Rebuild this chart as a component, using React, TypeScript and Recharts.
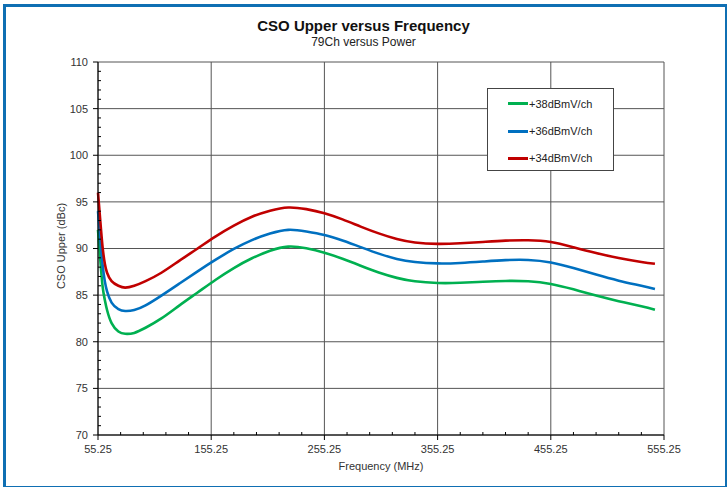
import { LineChart, Line, XAxis, YAxis, CartesianGrid, Legend } from "recharts";

const FONT = '"Liberation Sans", Arial, sans-serif';

// frequency (MHz) of each sample
const freq = [
  55.25, 57.25, 59.25, 61.25, 63.25, 67.25, 73.25, 79.25, 87.25, 97.25, 111.25, 127.25, 143.25, 159.25, 175.25,
  191.25, 207.25, 223.25, 239.25, 255.25, 271.25, 287.25, 303.25, 319.25, 335.25, 355.25, 375.25, 395.25, 415.25,
  435.25, 455.25, 475.25, 495.25, 515.25, 535.25, 547.25,
];

const cso38 = [
  92.0, 88.8, 86.0, 84.5, 83.4, 82.0, 81.1, 80.85, 80.95, 81.5, 82.5, 83.9, 85.28, 86.65, 87.9, 88.95, 89.75, 90.2,
  90.02, 89.55, 88.9, 88.15, 87.42, 86.85, 86.48, 86.3, 86.32, 86.43, 86.52, 86.48, 86.2, 85.62, 84.95, 84.35, 83.8,
  83.42,
];

const cso36 = [
  94.0, 91.0, 88.3, 86.5, 85.4, 84.2, 83.5, 83.3, 83.4, 83.9, 84.95, 86.25, 87.55, 88.8, 89.95, 90.9, 91.6, 92.0,
  91.83, 91.45, 90.85, 90.15, 89.45, 88.88, 88.55, 88.4, 88.45, 88.6, 88.75, 88.77, 88.5, 87.9, 87.2, 86.55, 86.0,
  85.65,
];

const cso34 = [
  96.0, 93.0, 90.2, 88.4, 87.4, 86.5, 86.0, 85.8, 86.0, 86.5, 87.4, 88.7, 90.0, 91.3, 92.45, 93.4, 94.05, 94.4, 94.22,
  93.78, 93.12, 92.35, 91.62, 91.02, 90.65, 90.5, 90.56, 90.7, 90.84, 90.88, 90.7, 90.14, 89.52, 88.98, 88.56, 88.36,
];

const xTicks = [55.25, 155.25, 255.25, 355.25, 455.25, 555.25];
const yTicks = [70, 75, 80, 85, 90, 95, 100, 105, 110];
// minor ticks: every 20 MHz, every 1 dBc
const xAllTicks = Array.from({ length: 26 }, (_, i) => 55.25 + i * 20);
const yAllTicks = Array.from({ length: 41 }, (_, i) => 70 + i);

const series = [
  { key: "p38", name: "+38dBmV/ch", color: "#00B050" },
  { key: "p36", name: "+36dBmV/ch", color: "#0070C0" },
  { key: "p34", name: "+34dBmV/ch", color: "#C00000" },
];

const rows = freq.map((f, i) => ({ f, p38: cso38[i], p36: cso36[i], p34: cso34[i] }));

const TICK_SIZE = 5;
const TICK_MARGIN = 5;
const isMajorX = (v: number) => xTicks.some((t) => Math.abs(t - v) < 1e-6);
const isMajorY = (v: number) => yTicks.includes(v);

function XTick(props: any) {
  const { x, y, payload } = props;
  const v = payload.value as number;
  const ay = y - TICK_SIZE - TICK_MARGIN;
  if (!isMajorX(v)) {
    return <line x1={x} x2={x} y1={ay - 3} y2={ay} stroke="#000" />;
  }
  return (
    <g>
      <line x1={x} x2={x} y1={ay} y2={ay + TICK_SIZE} stroke="#000" />
      <text x={x} y={y} dy="0.71em" textAnchor="middle" fontSize={11} fill="#333" fontFamily={FONT}>
        {v.toFixed(2)}
      </text>
    </g>
  );
}

function YTick(props: any) {
  const { x, y, payload } = props;
  const v = payload.value as number;
  const ax = x + TICK_SIZE + TICK_MARGIN;
  if (!isMajorY(v)) {
    return <line x1={ax} x2={ax + 3} y1={y} y2={y} stroke="#000" />;
  }
  return (
    <g>
      <line x1={ax - TICK_SIZE} x2={ax} y1={y} y2={y} stroke="#000" />
      <text x={x} y={y} dy="0.355em" textAnchor="end" fontSize={11} fill="#333" fontFamily={FONT}>
        {v}
      </text>
    </g>
  );
}

function LegendBox() {
  return (
    <div
      style={{
        width: 127,
        height: 83,
        boxSizing: "border-box",
        border: "1px solid #444",
        background: "#fff",
        fontFamily: FONT,
        fontSize: 11,
        color: "#222",
        position: "relative",
      }}
    >
      {series.map((s, i) => (
        <div
          key={s.key}
          style={{ position: "absolute", left: 20, top: 14.7 + i * 27.3 - 7, height: 14, display: "flex", alignItems: "center" }}
        >
          <span style={{ display: "inline-block", width: 20, height: 3, background: s.color, marginRight: 1 }} />
          <span>{s.name}</span>
        </div>
      ))}
    </div>
  );
}

const majorH = ({ offset }: any) => yTicks.map((v) => offset.top + ((110 - v) / 40) * offset.height);
const majorV = ({ offset }: any) => xTicks.map((v) => offset.left + ((v - 55.25) / 500) * offset.width);

export default function App() {
  return (
    <div
      style={{
        position: "fixed",
        left: 0,
        top: 0,
        width: 727,
        height: 487,
        overflow: "hidden",
        background: "#fff",
        fontFamily: FONT,
      }}
    >
      <div
        style={{
          position: "absolute",
          left: 3,
          top: 4,
          width: 725,
          height: 485,
          boxSizing: "border-box",
          border: "3px solid #0F6FB3",
        }}
      />
      <div style={{ position: "absolute", left: 0, top: 0 }}>
        <LineChart width={727} height={487} data={rows} margin={{ top: 62, right: 63, bottom: 22, left: 58 }}>
          <CartesianGrid
            stroke="#555"
            strokeWidth={1}
            horizontalCoordinatesGenerator={majorH}
            verticalCoordinatesGenerator={majorV}
          />
          <XAxis
            dataKey="f"
            type="number"
            domain={[55.25, 555.25]}
            ticks={xAllTicks}
            tick={<XTick />}
            tickLine={false}
            axisLine={{ stroke: "#000" }}
            tickSize={TICK_SIZE}
            tickMargin={TICK_MARGIN}
            height={30}
            interval={0}
          />
          <YAxis
            type="number"
            domain={[70, 110]}
            ticks={yAllTicks}
            tick={<YTick />}
            tickLine={false}
            axisLine={{ stroke: "#000" }}
            tickSize={TICK_SIZE}
            tickMargin={TICK_MARGIN}
            width={40}
            interval={0}
          />
          <Legend
            layout="vertical"
            align="center"
            verticalAlign="middle"
            content={() => <LegendBox />}
            wrapperStyle={{ left: 487, top: 88, width: 127, height: 83 }}
          />
          {series.map((s) => (
            <Line
              key={s.key}
              dataKey={s.key}
              name={s.name}
              type="natural"
              stroke={s.color}
              strokeWidth={2.6}
              dot={false}
              isAnimationActive={false}
            />
          ))}
        </LineChart>
      </div>
      <div
        style={{
          position: "absolute",
          left: 0,
          width: 727,
          top: 17,
          textAlign: "center",
          fontSize: 15,
          lineHeight: "17px",
          fontWeight: "bold",
          color: "#111",
        }}
      >
        CSO Upper versus Frequency
      </div>
      <div
        style={{
          position: "absolute",
          left: 0,
          width: 727,
          top: 35,
          textAlign: "center",
          fontSize: 12,
          lineHeight: "14px",
          color: "#222",
        }}
      >
        79Ch versus Power
      </div>
      <div
        style={{
          position: "absolute",
          left: 61,
          top: 246,
          transform: "translate(-50%, -50%) rotate(-90deg)",
          fontSize: 11,
          whiteSpace: "nowrap",
          color: "#333",
        }}
      >
        CSO Upper (dBc)
      </div>
      <div
        style={{
          position: "absolute",
          left: 381,
          top: 466,
          transform: "translate(-50%, -50%)",
          fontSize: 11,
          whiteSpace: "nowrap",
          color: "#333",
        }}
      >
        Frequency (MHz)
      </div>
    </div>
  );
}
